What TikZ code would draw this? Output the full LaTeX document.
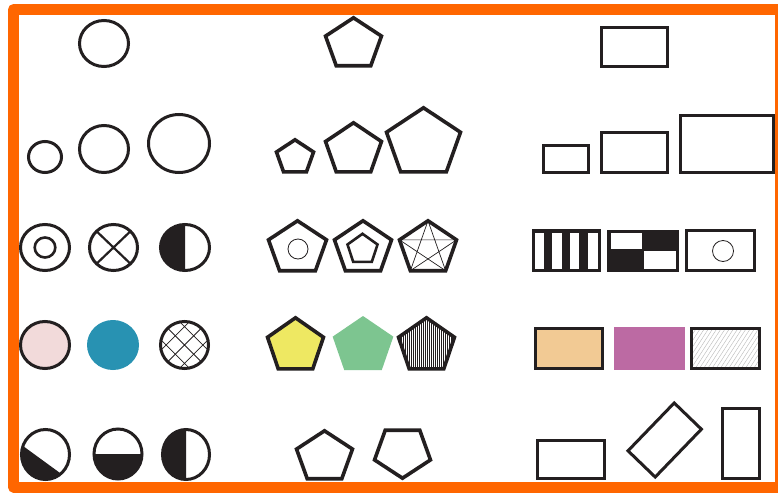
\documentclass[tikz,border=0pt]{standalone}
\definecolor{frameorange}{HTML}{FF6600}
\definecolor{ink}{HTML}{231F20}
\definecolor{pinkfill}{HTML}{F2DADA}
\definecolor{tealfill}{HTML}{2892B2}
\definecolor{yellowfill}{HTML}{EEE862}
\definecolor{greenfill}{HTML}{7DC590}
\definecolor{peachfill}{HTML}{F2CA94}
\definecolor{magentafill}{HTML}{BC6AA3}
\newcommand{\pentpath}{(90:1) -- (162:1) -- (234:1) -- (306:1) -- (18:1) -- cycle}
\newcommand{\starpath}{(90:1) -- (234:1) -- (18:1) -- (162:1) -- (306:1) -- cycle}
\tikzset{
  outl/.style={draw=ink, line width=3pt},
  pentl/.style={draw=ink, line width=3.6pt},
  thinl/.style={draw=ink, line width=0.8pt},
  hatchl/.style={draw=ink, line width=0.45pt},
  framel/.style={draw=frameorange, line width=11pt, line join=round}
}
\begin{document}
\begin{tikzpicture}[x=1pt,y=1pt]
\useasboundingbox (0,0) rectangle (778,-492);
\fill[white] (0,0) rectangle (778,-492);

% ---------------- circles column ----------------
\draw[outl] (104,-43.5) ellipse [x radius=24.5, y radius=23];
\draw[outl] (45,-157) ellipse [x radius=16.5, y radius=15.5];
\draw[outl] (104,-149) ellipse [x radius=24.5, y radius=23.5];
\draw[outl] (179,-143.5) ellipse [x radius=30.5, y radius=29];
% row 3
\draw[outl] (45,-247.5) ellipse [x radius=24.5, y radius=23];
\draw[ink, line width=2.6pt] (45,-247.5) ellipse [x radius=10.3, y radius=10];
\draw[outl] (113.5,-247.5) ellipse [x radius=24, y radius=23];
\draw[ink, line width=2.2pt] (113.5,-247.5) +(45:24 and 23) -- +(225:24 and 23)
  +(135:24 and 23) -- +(315:24 and 23);
\fill[ink] (185,-247.5) ++(90:24.5 and 23) arc[start angle=90, end angle=270, x radius=24.5, y radius=23] -- cycle;
\draw[outl] (185,-247.5) ellipse [x radius=24.5, y radius=23];
% row 4
\draw[outl, fill=pinkfill] (45,-345) ellipse [x radius=24.5, y radius=23.5];
\fill[tealfill] (113,-345) ellipse [x radius=26, y radius=25];
\begin{scope}
  \clip (184.5,-345) ellipse [x radius=24, y radius=23.5];
  \begin{scope}[shift={(184.5,-345)}, rotate=45]
    \foreach \d in {-39,-26,-13,0,13,26,39}
      \draw[ink, line width=0.8pt] (-40,\d) -- (40,\d) (\d,-40) -- (\d,40);
  \end{scope}
\end{scope}
\draw[outl] (184.5,-345) ellipse [x radius=24, y radius=23.5];
% row 5
\fill[ink] (45.5,-454.5) ++(160:24 and 25) arc[start angle=160, end angle=310, x radius=24, y radius=25] -- cycle;
\draw[outl] (45.5,-454.5) ellipse [x radius=24, y radius=25];
\fill[ink] (118,-454) ++(180:24 and 25) arc[start angle=180, end angle=360, x radius=24, y radius=25] -- cycle;
\draw[outl] (118,-454) ellipse [x radius=24, y radius=25];
\fill[ink] (186,-454.5) ++(90:23.5 and 25) arc[start angle=90, end angle=270, x radius=23.5, y radius=25] -- cycle;
\draw[outl] (186,-454.5) ellipse [x radius=23.5, y radius=25];

% ---------------- pentagons column ----------------
\draw[pentl, shift={(353.5,-44.3)}, xscale=29.4, yscale=26.5] \pentpath;
\draw[pentl, shift={(295,-157.5)}, xscale=19.5, yscale=17.7] \pentpath;
\draw[pentl, shift={(353.5,-149.9)}, xscale=29.4, yscale=27.1] \pentpath;
\draw[pentl, shift={(423.5,-143.2)}, xscale=38.9, yscale=35.4] \pentpath;
% row 3
\draw[pentl, shift={(297.5,-248.4)}, xscale=30.5, yscale=27.6] \pentpath;
\draw[thinl] (298,-249) circle (10);
\draw[pentl, shift={(363,-248.4)}, xscale=30, yscale=27.6] \pentpath;
\draw[ink, line width=2.6pt, shift={(362.5,-249.3)}, xscale=15.8, yscale=15.5] \pentpath;
\draw[ink, line width=0.7pt, shift={(428,-248.4)}, xscale=30, yscale=27.6] \starpath;
\draw[pentl, shift={(428,-248.4)}, xscale=30, yscale=27.6] \pentpath;
% row 4
\draw[pentl, fill=yellowfill, shift={(295.5,-346)}, xscale=29.4, yscale=28.2] \pentpath;
\fill[greenfill, shift={(363,-345.9)}, xscale=31.9, yscale=29.9] \pentpath;
\begin{scope}
  \clip[shift={(426.5,-346)}, xscale=29.4, yscale=28.2] \pentpath;
  \foreach \x in {-31,-29,...,31}
    \draw[hatchl] ({426.5+\x},-310) -- ({426.5+\x},-380);
\end{scope}
\draw[pentl, shift={(426.5,-346)}, xscale=29.4, yscale=28.2] \pentpath;
% row 5
\draw[pentl, shift={(324.5,-457.3)}, xscale=29.4, yscale=26.5] \pentpath;
\draw[pentl, shift={(402.5,-451.7)}, xscale=29.4, yscale=26.5]
  (270:1) -- (342:1) -- (54:1) -- (126:1) -- (198:1) -- cycle;

% ---------------- rectangles column ----------------
\draw[outl] (601.5,-27.5) rectangle (667.5,-66.5);
\draw[outl] (543.5,-145.5) rectangle (588.5,-172.5);
\draw[outl] (601.5,-132.5) rectangle (667.5,-172.5);
\draw[outl] (680.5,-115.5) rectangle (773.5,-172.5);
% row 3: stripes
\fill[ink] (532,-229) rectangle (601,-272);
\fill[white] (535,-232.5) rectangle (544.3,-268.7);
\fill[white] (552.4,-232.5) rectangle (561.7,-268.7);
\fill[white] (570,-232.5) rectangle (579.3,-268.7);
\fill[white] (588.3,-232.5) rectangle (597.7,-268.7);
% row 3: checker
\fill[ink] (607,-229.5) rectangle (679,-272);
\fill[white] (610.5,-233) rectangle (642.3,-249.4);
\fill[white] (644,-251) rectangle (675.7,-268.7);
% row 3: circle in rect
\draw[outl] (686.5,-230.5) rectangle (754.5,-270.5);
\draw[thinl] (723,-251) circle (10.5);
% row 4
\draw[outl, fill=peachfill] (535.5,-328.5) rectangle (602.5,-368.5);
\fill[magentafill] (614,-327) rectangle (685,-370);
\begin{scope}
  \clip (691.5,-328.5) rectangle (759.5,-368.5);
  \begin{scope}[shift={(725.5,-348.5)}, rotate=57]
    \foreach \d in {-45,-41.5,...,45}
      \draw[gray!55, line width=0.4pt] (-70,\d) -- (70,\d);
  \end{scope}
\end{scope}
\draw[outl] (691.5,-328.5) rectangle (759.5,-368.5);
% row 5
\draw[outl] (537.5,-440.5) rectangle (604.5,-478.5);
\draw[outl, rotate around={46:(664.7,-440)}] (631.45,-421.1) rectangle (697.95,-458.9);
\draw[outl] (722.5,-408.5) rectangle (759.5,-478.5);

% ---------------- frame ----------------
\draw[framel] (13.5,-9.5) rectangle (780.5,-487);
\end{tikzpicture}
\end{document}
